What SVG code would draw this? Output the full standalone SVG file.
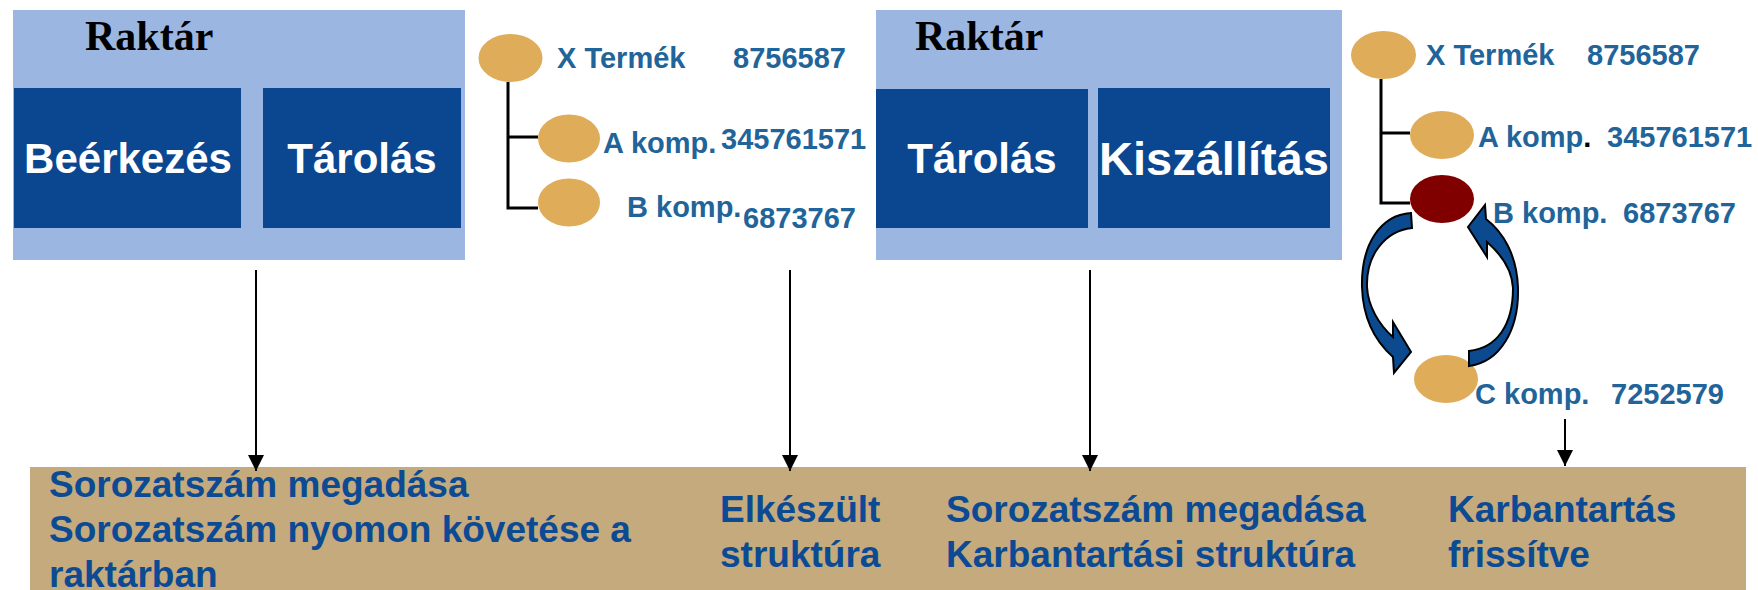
<svg xmlns="http://www.w3.org/2000/svg" width="1758" height="590" viewBox="0 0 1758 590">
<defs>
<marker id="ah" markerWidth="16" markerHeight="16" viewBox="0 0 16 16" refX="16" refY="8" orient="auto" markerUnits="userSpaceOnUse">
<path d="M0,0 L16,8 L0,16 Z" fill="#000"/>
</marker>
<style>
.panel{fill:#9CB6E2}
.box{fill:#0B4790}
.title{font-family:"Liberation Serif","Times New Roman",serif;font-weight:bold;font-size:42px;fill:#000}
.boxt{font-family:"Liberation Sans",Arial,sans-serif;font-weight:bold;font-size:42px;fill:#fff;text-anchor:middle}
.node{fill:#DFAC5A}
.tt{font-family:"Liberation Sans",Arial,sans-serif;font-weight:bold;font-size:29px;fill:#21649A}
.bt{font-family:"Liberation Sans",Arial,sans-serif;font-weight:bold;font-size:37px;fill:#0C4A94}
.tree{stroke:#000;stroke-width:3;fill:none}
.conn{stroke:#000;stroke-width:2;fill:none;marker-end:url(#ah)}
.carrow{fill:#0B4A8F;stroke:#000;stroke-width:2;stroke-linejoin:miter}
</style>
</defs>
<rect width="1758" height="590" fill="#fff"/>

<g id="panel1">
<rect class="panel" x="13" y="10" width="452" height="250"/>
<text class="title" x="85" y="50">Raktár</text>
<g id="beerkezes">
<rect class="box" x="14" y="88" width="227" height="140"/>
<text class="boxt" x="128" y="173">Beérkezés</text>
</g>
<g id="tarolas1">
<rect class="box" x="263" y="88" width="198" height="140"/>
<text class="boxt" x="362" y="173">Tárolás</text>
</g>
</g>

<g id="panel2">
<rect class="panel" x="876" y="10" width="466" height="250"/>
<text class="title" x="915" y="50">Raktár</text>
<g id="tarolas2">
<rect class="box" x="876" y="89" width="212" height="139"/>
<text class="boxt" x="982" y="173">Tárolás</text>
</g>
<g id="kiszallitas">
<rect class="box" x="1098" y="88" width="232" height="140"/>
<text class="boxt" x="1214" y="175" style="font-size:47px" textLength="230" lengthAdjust="spacingAndGlyphs">Kiszállítás</text>
</g>
</g>

<g id="tree1">
<path class="tree" d="M508,82 V208 H538 M508,137 H538"/>
<g id="t1-x"><ellipse class="node" cx="510.5" cy="58" rx="32" ry="24"/><text class="tt" x="557" y="68">X Termék</text><text class="tt" x="733" y="68">8756587</text></g>
<g id="t1-a"><ellipse class="node" cx="569" cy="138.5" rx="31" ry="24"/><text class="tt" x="603" y="153">A komp.</text><text class="tt" x="721" y="149">345761571</text></g>
<g id="t1-b"><ellipse class="node" cx="569" cy="202.5" rx="31" ry="24"/><text class="tt" x="627" y="217">B komp.</text><text class="tt" x="743" y="228">6873767</text></g>
</g>

<g id="tree2">
<path class="tree" d="M1381,79 V203 H1410 M1381,133 H1410"/>
<g id="t2-x"><ellipse class="node" cx="1383.5" cy="55" rx="32.5" ry="24"/><text class="tt" x="1426" y="65">X Termék</text><text class="tt" x="1587" y="65">8756587</text></g>
<g id="t2-a"><ellipse class="node" cx="1442" cy="135" rx="32" ry="24"/><text class="tt" x="1478" y="147">A komp<tspan fill="#000">.</tspan></text><text class="tt" x="1607" y="147">345761571</text></g>
<g id="t2-b"><ellipse cx="1442" cy="199" rx="32" ry="24" fill="#800000"/><text class="tt" x="1493" y="223">B komp.</text><text class="tt" x="1623" y="223">6873767</text></g>
<g id="t2-c"><ellipse class="node" cx="1446" cy="379" rx="32" ry="24"/><text class="tt" x="1475" y="404">C komp.</text><text class="tt" x="1611" y="404">7252579</text></g>
</g>

<g id="cycle">
<path class="carrow" d="M1411,213 C1380,215 1361,245 1362,287 C1363,320 1376,342 1393,357 L1394,373 L1411,352 L1393,322 L1393,337 C1379,325 1368,306 1367,287 C1366,255 1385,231 1412,228 Z"/>
<path class="carrow" d="M1469,366 C1500,362 1519,330 1518,288 C1517,255 1503,232 1486,219 L1485,205 L1468,227 L1487,257 L1487,242 C1502,255 1512,270 1513,288 C1513,325 1497,348 1469,351 Z"/>
</g>

<g id="bottom">
<rect x="30" y="467" width="1716" height="123" fill="#C4AA7D"/>
<text class="bt" x="49" y="497">Sorozatszám megadása</text>
<text class="bt" x="49" y="542">Sorozatszám nyomon követése a</text>
<text class="bt" x="49" y="587">raktárban</text>
<text class="bt" x="720" y="522">Elkészült</text>
<text class="bt" x="720" y="567">struktúra</text>
<text class="bt" x="946" y="522">Sorozatszám megadása</text>
<text class="bt" x="946" y="567">Karbantartási struktúra</text>
<text class="bt" x="1448" y="522">Karbantartás</text>
<text class="bt" x="1448" y="567">frissítve</text>
</g>

<g id="connectors">
<line class="conn" x1="256" y1="270" x2="256" y2="471"/>
<line class="conn" x1="790" y1="270" x2="790" y2="471"/>
<line class="conn" x1="1090" y1="270" x2="1090" y2="471"/>
<line class="conn" x1="1565" y1="419" x2="1565" y2="466"/>
</g>
</svg>
